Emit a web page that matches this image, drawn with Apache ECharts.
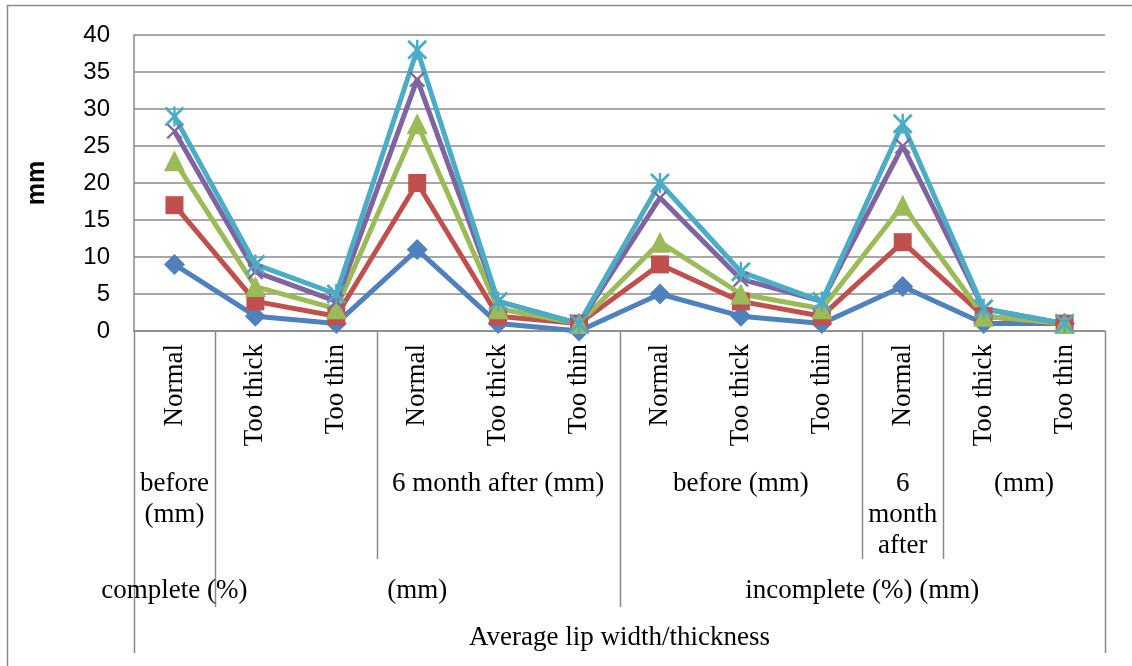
<!DOCTYPE html>
<html>
<head>
<meta charset="utf-8">
<script src="https://cdn.jsdelivr.net/npm/echarts@6/dist/echarts.min.js"></script>
<style>
html,body{margin:0;padding:0;background:#fff;}
#chart{width:1132px;height:666px;}
</style>
</head>
<body>
<div id="chart"></div>
<script>
// ---- data ----
const categories = ['Normal','Too thick','Too thin','Normal','Too thick','Too thin','Normal','Too thick','Too thin','Normal','Too thick','Too thin'];
const series1 = [9, 2, 1, 11, 1, 0, 5, 2, 1, 6, 1, 1];
const series2 = [17, 4, 2, 20, 2, 1, 9, 4, 2, 12, 2, 1];
const series3 = [23, 6, 3, 28, 3, 1, 12, 5, 3, 17, 2, 1];
const series4 = [27, 8, 4, 34, 4, 1, 18, 7, 4, 25, 3, 1];
const series5 = [29, 9, 5, 38, 4, 1, 20, 8, 4, 28, 3, 1];
const yTicks = [0, 5, 10, 15, 20, 25, 30, 35, 40];
// group levels below the category labels: [label, startIndex, endIndex]
const level2Groups = [['before\n(mm)',0,1],['',1,3],['6 month after (mm)',3,6],['before (mm)',6,9],['6\nmonth\nafter',9,10],['(mm)',10,12]];
const level3Groups = [['complete (%)',0,1],['(mm)',1,6],['incomplete (%) (mm)',6,12]];
const level4Groups = [['Average lip width/thickness',0,12]];
const yAxisName = 'mm';

// ---- styles ----
const GRAY = '#8a8a8a';
const serif = '"Liberation Serif", "Times New Roman", serif';
const sans = '"Liberation Sans", Arial, sans-serif';
const X_PATH = 'path://M0,1 L1,0 L5,4 L9,0 L10,1 L6,5 L10,9 L9,10 L5,6 L1,10 L0,9 L4,5 Z';
const STAR_PATH = 'path://M0,1 L1,0 L4.4,3.4 L4.4,0 L5.6,0 L5.6,3.4 L9,0 L10,1 L6,5 L10,9 L9,10 L5.6,6.6 L5.6,10 L4.4,10 L4.4,6.6 L1,10 L0,9 L4,5 Z';
const FS = 27;

const chart = echarts.init(document.getElementById('chart'), null, {renderer:'canvas'});

function mkSeries(name, data, color, symbol, size){
  return {
    name, type:'line', data, symbol, symbolSize:size, showAllSymbol:true,
    lineStyle:{color, width:5}, itemStyle:{color, borderColor:color, borderWidth:0},
    emphasis:{disabled:true}, animation:false
  };
}

const option = {
  animation:false,
  grid:{left:134, right:27, top:35, bottom:335, containLabel:false},
  xAxis:{
    type:'category', data:categories, boundaryGap:true,
    axisLine:{show:true, lineStyle:{color:GRAY, width:1.5}},
    axisTick:{show:false},
    axisLabel:{rotate:90, margin:13, fontFamily:serif, fontSize:FS, color:'#000', interval:0},
    splitLine:{show:false}
  },
  yAxis:{
    type:'value', min:yTicks[0], max:yTicks[yTicks.length-1], interval:5,
    name:yAxisName, nameLocation:'middle', nameGap:84, nameRotate:90,
    nameTextStyle:{fontFamily:sans, fontWeight:'bold', fontSize:25, color:'#000'},
    axisLine:{show:true, lineStyle:{color:GRAY, width:1.5}},
    axisTick:{show:false},
    axisLabel:{margin:24, fontFamily:sans, fontSize:24, color:'#000'},
    splitLine:{show:true, lineStyle:{color:GRAY, width:1.5}}
  },
  series:[
    mkSeries('S1', series1, '#4F81BD', 'diamond', 21),
    mkSeries('S2', series2, '#C0504D', 'rect', 18),
    mkSeries('S3', series3, '#9BBB59', 'triangle', 21),
    mkSeries('S4', series4, '#8064A2', X_PATH, 16),
    mkSeries('S5', series5, '#4BACC6', STAR_PATH, 20)
  ]
};
chart.setOption(option);

// ---- multi-level category axis (computed from the axis scale) ----
const c0 = chart.convertToPixel({xAxisIndex:0}, 0);
const c1 = chart.convertToPixel({xAxisIndex:0}, 1);
const w = c1 - c0;
const edge = k => c0 - w/2 + k*w;
const axisY = chart.convertToPixel({yAxisIndex:0}, 0);
const levelBottoms = [axisY + 228, axisY + 276, axisY + 322]; // level2, level3, level4
const levelTextTop = [axisY + 137, axisY + 244, axisY + 291];
const levels = [level2Groups, level3Groups, level4Groups];

const graphics = [];
// outer chart border
graphics.push({type:'rect', shape:{x:7.5, y:5.5, width:1300, height:800}, style:{fill:'none', stroke:GRAY, lineWidth:1.5}, silent:true});

// boundary lines
const bottomFor = {};
levels.forEach((grp, li) => {
  grp.forEach(g => {
    [g[1], g[2]].forEach(k => {
      bottomFor[k] = Math.max(bottomFor[k] || 0, levelBottoms[li]);
    });
  });
});
Object.keys(bottomFor).forEach(k => {
  const x = Math.round(edge(+k)) + 0.5;
  graphics.push({type:'line', shape:{x1:x, y1:axisY, x2:x, y2:bottomFor[k]}, style:{stroke:GRAY, lineWidth:1.5}, silent:true});
});
// group labels
levels.forEach((grp, li) => {
  grp.forEach(g => {
    if (!g[0]) return;
    const cx = (edge(g[1]) + edge(g[2])) / 2;
    graphics.push({type:'text', x:cx, y:levelTextTop[li], silent:true,
      style:{text:g[0], fontFamily:serif, fontSize:FS, fill:'#000', align:'center', verticalAlign:'top', lineHeight:31}});
  });
});
chart.setOption({graphic:graphics});
</script>
</body>
</html>
